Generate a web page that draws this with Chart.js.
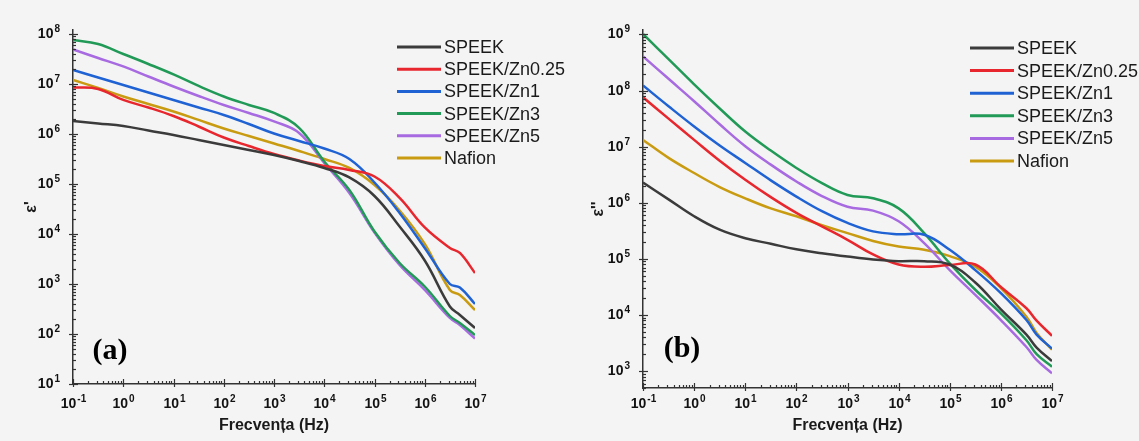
<!DOCTYPE html>
<html>
<head>
<meta charset="utf-8">
<script src="https://cdn.jsdelivr.net/npm/chart.js@4/dist/chart.umd.min.js"></script>
<style>
  body { margin: 0; background: #f4f4f4; }
  #wrap { position: relative; width: 1139px; height: 441px; overflow: hidden; }
  canvas { position: absolute; top: 0; }
</style>
</head>
<body>
<div id="wrap">
  <canvas id="realChart" width="570" height="441" style="left:0"></canvas>
  <canvas id="imagChart" width="569" height="441" style="left:570px"></canvas>
</div>
<script>
const frequencies = [0.1, 0.316, 1, 3.16, 10, 31.6, 100, 316, 1e3, 3160, 1e4, 31600, 1e5, 316000, 1e6, 3.16e6, 5e6, 1e7];
const seriesNames = ['SPEEK', 'SPEEK/Zn0.25', 'SPEEK/Zn1', 'SPEEK/Zn3', 'SPEEK/Zn5', 'Nafion'];
const seriesColors = ['#3b3b3b', '#e8262d', '#1f62d4', '#219a57', '#a86ae0', '#c99b10'];

// (a) epsilon' values
const realSpeek  = [1.82e6, 1.62e6, 1.45e6, 1.17e6, 9.55e5, 7.59e5, 6.03e5, 4.79e5, 3.8e5, 2.88e5, 2.09e5, 1.35e5, 5.75e4, 1.41e4, 2.95e3, 355, 240, 132];
const realZn025  = [8.51e6, 7.94e6, 4.79e6, 3.39e6, 2.29e6, 1.41e6, 8.51e5, 5.75e5, 3.98e5, 2.95e5, 2.29e5, 1.91e5, 1.41e5, 5.25e4, 1.35e4, 5.25e3, 4.17e3, 1.66e3];
const realZn1    = [1.91e7, 1.35e7, 9.55e6, 6.76e6, 4.79e6, 3.39e6, 2.4e6, 1.58e6, 1.02e6, 7.24e5, 5.13e5, 3.16e5, 1.07e5, 2.63e4, 5.25e3, 1.0e3, 851, 398];
const realZn3    = [7.59e7, 6.31e7, 3.98e7, 2.51e7, 1.55e7, 9.12e6, 5.62e6, 3.8e6, 2.63e6, 1.32e6, 2.82e5, 7.59e4, 1.12e4, 2.63e3, 891, 229, 166, 95.5];
const realZn5    = [4.9e7, 3.31e7, 2.24e7, 1.41e7, 8.91e6, 5.75e6, 3.8e6, 2.63e6, 1.78e6, 1.05e6, 2.63e5, 6.61e4, 1.07e4, 2.4e3, 759, 209, 151, 81.3];
const realNafion = [1.2e7, 8.32e6, 5.62e6, 3.98e6, 2.82e6, 1.91e6, 1.29e6, 9.12e5, 6.46e5, 4.57e5, 3.16e5, 2.09e5, 9.55e4, 2.95e4, 6.31e3, 759, 603, 302];

// (b) epsilon'' values
const imagSpeek  = [2.29e6, 1.15e6, 5.75e5, 3.31e5, 2.34e5, 1.86e5, 1.48e5, 1.26e5, 1.1e5, 9.77e4, 9.12e4, 9.12e4, 7.94e4, 3.8e4, 1.26e4, 4.47e3, 2.63e3, 1.51e3];
const imagZn025  = [7.59e7, 3.16e7, 1.32e7, 5.62e6, 2.57e6, 1.26e6, 6.61e5, 3.8e5, 2.19e5, 1.2e5, 7.94e4, 7.24e4, 7.76e4, 7.94e4, 3.16e4, 1.32e4, 7.94e3, 4.27e3];
const imagZn1    = [1.23e8, 5.25e7, 2.29e7, 1.05e7, 5.13e6, 2.51e6, 1.29e6, 7.08e5, 4.37e5, 3.09e5, 2.75e5, 2.69e5, 1.45e5, 6.31e4, 2.45e4, 8.13e3, 4.47e3, 2.51e3];
const imagZn3    = [1.02e9, 3.63e8, 1.29e8, 4.79e7, 1.86e7, 8.51e6, 4.17e6, 2.24e6, 1.38e6, 1.2e6, 7.94e5, 2.88e5, 8.32e4, 2.82e4, 1.07e4, 3.55e3, 2.0e3, 1.2e3];
const imagZn5    = [4.07e8, 1.62e8, 6.46e7, 2.51e7, 1.02e7, 4.79e6, 2.4e6, 1.32e6, 8.51e5, 7.24e5, 4.68e5, 1.91e5, 6.31e4, 2.29e4, 8.13e3, 2.69e3, 1.58e3, 912];
const imagNafion = [1.32e7, 6.31e6, 3.39e6, 1.91e6, 1.2e6, 7.94e5, 5.75e5, 3.98e5, 2.88e5, 2.09e5, 1.66e5, 1.45e5, 1.12e5, 7.24e4, 3.02e4, 9.33e3, 4.79e3, 2.4e3];

const FONT = '"Liberation Sans", Arial, sans-serif';
const AXIS_COLOR = '#333';

function makeDatasets(seriesList) {
    return seriesList.map((vals, i) => ({
        label: seriesNames[i],
        data: frequencies.map((f, j) => ({x: f, y: vals[j]})),
        borderColor: seriesColors[i],
        backgroundColor: seriesColors[i],
        borderWidth: 2.5,
        pointRadius: 0,
        tension: 0.4,
    }));
}

function powLabel(ctx, exp, x, y, align) {
    const base = '10', sup = String(exp);
    ctx.font = 'bold 14px ' + FONT;
    const wb = ctx.measureText(base).width;
    ctx.font = 'bold 10px ' + FONT;
    const ws = ctx.measureText(sup).width;
    const total = wb + ws + 1;
    const left = align === 'right' ? x - total : x - total / 2;
    ctx.textAlign = 'left';
    ctx.textBaseline = 'middle';
    ctx.font = 'bold 14px ' + FONT;
    ctx.fillText(base, left, y);
    ctx.font = 'bold 10px ' + FONT;
    ctx.fillText(sup, left + wb + 1, y - 5);
}

function tickKind(v) {
    const e = Math.floor(Math.log10(v) + 1e-9);
    const m = v / Math.pow(10, e);
    if (Math.abs(m - Math.round(m)) > 1e-6) return null;
    return Math.round(m) === 1 ? {major: true, exp: e} : {major: false};
}

// axis ticks, tick labels, legend and panel letter
const decorPlugin = {
    id: 'decor',
    afterDraw(chart, args, opts) {
        const ctx = chart.ctx;
        const area = chart.chartArea;
        const xs = chart.scales.x, ys = chart.scales.y;
        ctx.save();
        ctx.strokeStyle = AXIS_COLOR;
        ctx.fillStyle = '#111';
        ctx.lineWidth = 1.2;
        xs.ticks.forEach(t => {
            const k = tickKind(t.value);
            if (!k) return;
            const px = Math.round(xs.getPixelForValue(t.value)) + 0.5;
            ctx.beginPath();
            ctx.moveTo(px, area.bottom + (k.major ? 3 : 0));
            ctx.lineTo(px, area.bottom - (k.major ? 5 : 3));
            ctx.stroke();
            if (k.major) powLabel(ctx, k.exp, px, area.bottom + opts.xLabelGap, 'center');
        });
        ys.ticks.forEach(t => {
            const k = tickKind(t.value);
            if (!k) return;
            const py = Math.round(ys.getPixelForValue(t.value)) + 0.5;
            ctx.beginPath();
            ctx.moveTo(area.left - (k.major ? 4 : 0), py);
            ctx.lineTo(area.left + (k.major ? 5 : 3), py);
            ctx.stroke();
            if (k.major) powLabel(ctx, k.exp, area.left - 13, py, 'right');
        });

        // legend
        ctx.lineWidth = 3;
        ctx.font = '18px ' + FONT;
        ctx.textAlign = 'left';
        ctx.textBaseline = 'middle';
        chart.data.datasets.forEach((ds, i) => {
            const y = opts.legendY + i * opts.legendGap;
            ctx.strokeStyle = ds.borderColor;
            ctx.beginPath();
            ctx.moveTo(opts.legendX, y);
            ctx.lineTo(opts.legendX + 44, y);
            ctx.stroke();
            ctx.fillStyle = '#1a1a1a';
            ctx.fillText(ds.label, opts.legendX + 47, y + 1);
        });

        // panel letter
        ctx.fillStyle = '#000';
        ctx.font = 'bold 30px "Liberation Serif", "Times New Roman", serif';
        ctx.textAlign = 'center';
        ctx.fillText(opts.panel, opts.panelX, opts.panelY);
        ctx.restore();
    }
};

function makeConfig(seriesList, yMin, yMax, yTitle, yTitlePad, areaBottom, padRight, canvasH, decor) {
    return {
        type: 'line',
        data: {datasets: makeDatasets(seriesList)},
        plugins: [decorPlugin],
        options: {
            responsive: false,
            animation: false,
            layout: {padding: {top: 30, right: padRight, left: 0, bottom: 0}},
            plugins: {
                legend: {display: false},
                tooltip: {enabled: false},
                decor: decor,
            },
            scales: {
                x: {
                    type: 'logarithmic',
                    min: 0.1,
                    max: 1e7,
                    grid: {display: false},
                    border: {display: true, color: AXIS_COLOR, width: 1.5},
                    ticks: {display: false},
                    title: {
                        display: true,
                        text: 'Frecvența (Hz)',
                        color: '#1a1a1a',
                        font: {size: 16, weight: 'bold', family: FONT},
                        padding: {top: 0, bottom: 6},
                    },
                    afterFit(s) { s.height = canvasH - areaBottom; },
                },
                y: {
                    type: 'logarithmic',
                    min: yMin,
                    max: yMax,
                    grid: {display: false},
                    border: {display: true, color: AXIS_COLOR, width: 1.5},
                    ticks: {display: false},
                    title: {
                        display: true,
                        text: yTitle,
                        color: '#1a1a1a',
                        font: {size: 16, weight: 'bold', family: FONT},
                        padding: {top: yTitlePad, bottom: 0},
                    },
                    afterFit(s) { s.width = 73; },
                },
            },
        },
    };
}

const realChart = new Chart(
    document.getElementById('realChart'),
    makeConfig([realSpeek, realZn025, realZn1, realZn3, realZn5, realNafion],
        10, 1.2e8, "ε'", 22, 384, 95, 441,
        {legendX: 397, legendY: 47, legendGap: 22.2, xLabelGap: 20, panel: '(a)', panelX: 110, panelY: 351})
);
const imagChart = new Chart(
    document.getElementById('imagChart'),
    makeConfig([imagSpeek, imagZn025, imagZn1, imagZn3, imagZn5, imagNafion],
        500, 1.2e9, "ε''", 19, 388, 87, 441,
        {legendX: 400, legendY: 48, legendGap: 22.6, xLabelGap: 16, panel: '(b)', panelX: 112, panelY: 349})
);
</script>
</body>
</html>
